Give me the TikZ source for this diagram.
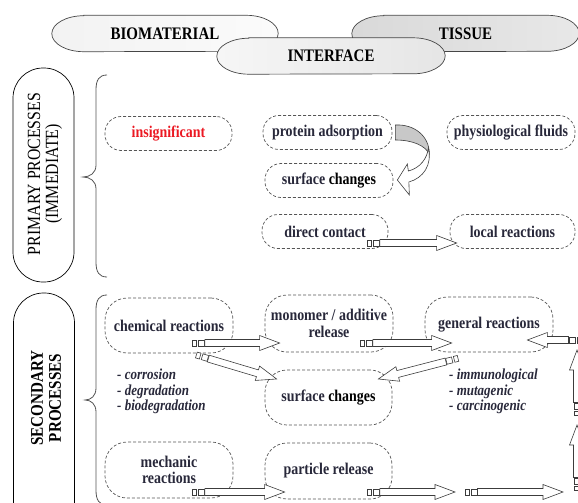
\documentclass[tikz,border=0pt]{standalone}
\usepackage{fontspec}
\setmainfont{Liberation Serif}[FakeStretch=0.85]
\usetikzlibrary{calc}
\pgfdeclarelayer{background}
\pgfsetlayers{background,main}
\definecolor{txt}{RGB}{40,40,58}
\definecolor{edge}{RGB}{85,85,85}
\definecolor{capline}{RGB}{70,70,70}
\definecolor{arrowc}{RGB}{60,60,60}
\definecolor{insred}{RGB}{235,25,35}
\definecolor{curvgray}{RGB}{200,200,200}
\newcommand\ecap[4]{%
  \draw[line width=0.7pt, draw=capline, #4]
    ([xshift=#2]#1.north west) -- ([xshift=-#2]#1.north east)
    arc[start angle=90,end angle=-90,x radius=#2,y radius=#3]
    -- ([xshift=#2]#1.south west)
    arc[start angle=270,end angle=90,x radius=#2,y radius=#3] -- cycle;}
\newcommand\blockarrow[2]{%
  \path let \p1=($(#2)-(#1)$) in \pgfextra{%
    \pgfmathsetmacro\tmpL{veclen(\x1,\y1)}%
    \pgfmathsetmacro\tmpA{atan2(\y1,\x1)}%
    \xdef\barL{\tmpL}\xdef\barA{\tmpA}};
  \begin{scope}[shift={(#1)},rotate=\barA,x=1pt,y=1pt]
    \draw[barst] (0,-3) rectangle (4,3);
    \draw[barst] (6,-3) rectangle (12,3);
    \draw[barst] (12.5,-3.5) -- ({\barL-20},-3.5) -- ({\barL-20},-7.5) -- (\barL,0)
      -- ({\barL-20},7.5) -- ({\barL-20},3.5) -- (12.5,3.5) -- cycle;
  \end{scope}}
\begin{document}
\begin{tikzpicture}[x=1pt,y=-1pt,
  dn/.style={draw=edge, dash pattern=on 3pt off 2pt, line width=0.7pt,
    rounded corners=16pt, minimum height=34pt, align=center, text=txt,
    font=\fontsize{16.4}{18.8}\selectfont\bfseries, inner sep=1pt},
  dn2/.style={dn, rounded corners=22pt, minimum height=56pt, minimum width=128pt},
  capsT/.style={font=\fontsize{17.6}{19}\selectfont\bfseries, minimum height=36pt, inner sep=0pt},
  capsV/.style={draw=black, line width=0.7pt, rounded corners=30pt, rotate=90, minimum height=61pt},
  barst/.style={draw=arrowc, fill=white, line width=0.6pt},
  lst/.style={font=\fontsize{15.3}{15.5}\selectfont\bfseries\itshape, text=txt, align=left, inner sep=0pt},
  brace/.style={draw=edge, line width=0.8pt}]
\useasboundingbox (0,0) rectangle (578,503);
\clip (0,0) rectangle (578,503);

% top labels
\node[capsT, minimum width=226pt] (bio) at (165,33.5) {BIOMATERIAL};
\node[capsT, minimum width=227pt] (tis) at (465.5,33.5) {TISSUE};
\node[capsT, minimum width=228pt] (int) at (331,56) {INTERFACE};
\begin{pgfonlayer}{background}
  \ecap{bio}{32pt}{18pt}{left color=gray!10, right color=gray!3}
  \ecap{tis}{32pt}{18pt}{left color=gray!30, right color=gray!18}
  \ecap{int}{32pt}{18pt}{left color=gray!7, right color=gray!20}
\end{pgfonlayer}

% side capsules
\node[capsV, minimum width=214pt] (prim) at (43.5,175) {};
\node[rotate=90, align=center, font=\fontsize{18.6}{18}\selectfont] (primT) at (45,174) {PRIMARY PROCESSES\\(IMMEDIATE)};
\node[capsV, minimum width=240pt] (sec) at (44,413) {};
\node[rotate=90, align=center, font=\fontsize{17.8}{18}\selectfont\bfseries] (secT) at (46,398) {SECONDARY\\PROCESSES};

% braces
\draw[brace] (107,75) .. controls (99,75) and (96,80) .. (96,90) -- (96,165)
  .. controls (96,173) and (90,177) .. (83,177) .. controls (90,177) and (96,181) .. (96,189)
  -- (96,262) .. controls (96,272) and (99,277) .. (107,277);
\draw[brace] (107,295) .. controls (99,295) and (96,300) .. (96,310) -- (96,388)
  .. controls (96,396) and (91,400) .. (85,400) .. controls (91,400) and (96,404) .. (96,412)
  -- (96,490) .. controls (96,500) and (99,505) .. (107,505);

% primary nodes
\node[dn, minimum width=127pt, text=insred] (insig) at (168.5,133.5) {insignificant};
\node[dn, minimum width=129pt] (prot) at (327.5,132.5) {protein adsorption};
\node[dn, minimum width=128pt] (phys) at (511,132.5) {physiological fluids};
\node[dn, minimum width=128pt] (surf1) at (329,180.5) {surface \textcolor{black}{changes}};
\node[dn, minimum width=126pt] (direct) at (325,231.5) {direct contact};
\node[dn, minimum width=125pt] (local) at (512.5,231.5) {local reactions};

% secondary nodes
\node[dn2, minimum height=55pt] (chem) at (169,325.5) {chemical reactions};
\node[dn2, minimum height=57pt] (mono) at (329,323.5) {monomer / additive\\[-2.5pt]release};
\node[dn2, minimum height=55pt] (gen) at (489,324.5) {general reactions};
\node[dn2, minimum height=55pt, minimum width=127pt] (surf2) at (328.5,397.5) {surface \textcolor{black}{changes}};
\node[dn2] (mech) at (169,470) {mechanic\\[-2.5pt]reactions};
\node[dn2, minimum width=127pt] (part) at (328.5,471) {particle release};

% lists
\node[lst, anchor=west] (l1) at (117,391.5) {- corrosion\\- degradation\\- biodegradation};
\node[lst, anchor=west] (l2) at (449,391.5) {- immunological\\- mutagenic\\- carcinogenic};

% curved arrow protein -> surface changes
\begin{scope}[shift={(prot.east)}]
  \draw[draw=arrowc, fill=curvgray, line width=0.6pt]
    (3,-7.5) .. controls (22,-8.5) and (37,3.5) .. (37,21.5)
    .. controls (33,13.5) and (21,7.5) .. (3,7.5) -- cycle;
  \draw[draw=arrowc, fill=white, line width=0.6pt]
    (36,15.5) .. controls (40,32.5) and (31,45.5) .. (16.5,49.5)
    -- (17,62.5) -- (5,47.5) -- (15,31.5) -- (16,38.5)
    .. controls (28,35.5) and (35,25.5) .. (36,15.5) -- cycle;
\end{scope}

% connector coordinates
\coordinate (a1s) at ($(direct.east)+(-21,11.5)$);
\coordinate (a1e) at ($(local.west)+(7,11.5)$);
\coordinate (a2s) at ($(chem.east)+(-41,17.5)$);
\coordinate (a2e) at ($(mono.west)+(15,19.5)$);
\coordinate (a3s) at ($(chem.east)+(-37,29.5)$);
\coordinate (a3e) at ($(surf2.west)+(12,-18.5)$);
\coordinate (a4s) at ($(mech.east)+(-41,22)$);
\coordinate (a4e) at ($(part.west)+(20,21)$);
\coordinate (a5s) at ($(mono.east)+(-33,19.5)$);
\coordinate (a5e) at ($(gen.west)+(27,18.5)$);
\coordinate (a6s) at ($(gen.south)+(-31,6)$);
\coordinate (a6e) at ($(surf2.east)+(-14,-18.5)$);
\coordinate (a7s) at ($(part.east)+(-25,21)$);
\coordinate (f1) at (455,492);
\coordinate (f2) at (465,492);
\coordinate (f3) at (563,492);
\coordinate (f4) at (577,490);
\coordinate (f5) at (577,425);
\coordinate (f6) at (577,415);
\coordinate (f7) at (577,350);
\coordinate (f8) at (581,340);
\coordinate (a11e) at ($(gen.east)+(-26,15.5)$);

\blockarrow{a1s}{a1e}
\blockarrow{a2s}{a2e}
\blockarrow{a3s}{a3e}
\blockarrow{a4s}{a4e}
\blockarrow{a5s}{a5e}
\blockarrow{a6s}{a6e}
\blockarrow{a7s}{f1}
\blockarrow{f2}{f3}
\blockarrow{f4}{f5}
\blockarrow{f6}{f7}
\blockarrow{f8}{a11e}
\end{tikzpicture}
\end{document}
